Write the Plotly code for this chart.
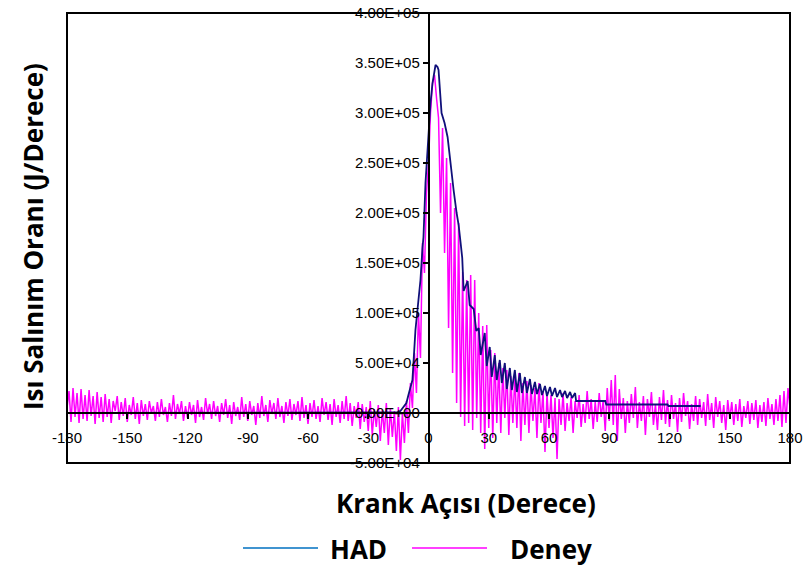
import plotly.graph_objects as go

# Crank angle grid for the measured (Deney) heat release rate, 1 degree steps
crank_deg = list(range(-180, 181))

# Measured heat release rate, in units of 1000 J/deg, from -180 to 180 deg
deney_k = [
    5, 22, -9, 25, -4, 20, -10, 24, -6, 18,
    -8, 23, -3, 17, -11, 21, -5, 16, -9, 19,
    -4, 14, -10, 12, 2, 17, -7, 11, -3, 15,
    -9, 8, -2, 16, -6, 10, -11, 13, -3, 9,
    -7, 12, 0, 7, -8, 11, -4, 14, -2, 6,
    -9, 10, -3, 18, -6, 9, -1, 12, -8, 7,
    -5, 11, -2, 8, -10, 13, -4, 6, -7, 15,
    -1, 9, -6, 12, -3, 7, -9, 10, -2, 14,
    -5, 8, -11, 11, -3, 6, -7, 16, -4, 9,
    -8, 12, -2, 7, -12, 10, -5, 17, -3, 8,
    -9, 13, -1, 10, -6, 15, -4, 7, -10, 11,
    -3, 14, -7, 9, -2, 12, -8, 16, -5, 8,
    -11, 10, -4, 13, -6, 7, -9, 15, -2, 11,
    -7, 9, -12, 14, -4, 8, -10, 12, -6, 17,
    -8, 10, -13, 7, -5, 11, -16, 9, -9, 6,
    -18, 12, -22, 4, -14, 8, -28, 3, -20, 10,
    -32, 5, -24, 2, -38, 6, -47, 0, -30, 12,
    -20, 30, 5, 60, 20, 100, 55, 170, 140, 220,
    250, 300, 330, 338, 315, 295, 200, 285, 160, 255,
    85, 230, 40, 205, 10, 190, -4, 141, -13, 133,
    -10, 138, -17, 133, -5, 100, -20, 87, -36, 88,
    -15, 63, -25, 60, -10, 50, -20, 45, -5, 43,
    -22, 37, -10, 37, -15, 40, -28, 30, -12, 32,
    -20, 28, -8, 25, -25, 30, -10, 22, -39, 20,
    -15, 18, -25, 15, -46, 14, -12, 20, -18, 10,
    -8, 16, -20, 12, -5, 18, -14, 9, -10, 22,
    -6, 14, -16, 11, -9, 20, -4, 13, -18, 25,
    -8, 33, -12, 38, -28, 24, -6, 15, -20, 12,
    -10, 19, -5, 26, -15, 11, -8, 17, -22, 14,
    -4, 21, -12, 9, -17, 16, -7, 23, -11, 13,
    -14, 18, -6, 10, -19, 15, -9, 20, -3, 12,
    -16, 9, -8, 17, -12, 14, -5, 11, -13, 19,
    -7, 10, -15, 16, -4, 12, -10, 8, -17, 13,
    -6, 11, -12, 9, -8, 14, -14, 7, -5, 12,
    -11, 10, -7, 13, -15, 8, -9, 11, -13, 15,
    -6, 9, -12, 14, -8, 18, -14, 22, -10, 25,
    5,
]
deney = [v * 1000 for v in deney_k]

# CFD (HAD) heat release rate: crank angle (deg) and value (1000 J/deg)
had_deg = [
    -180, -16, -14, -12.5, -11, -10, -8, -6.5, -5, -4, -3, -2.5, -1.5, 0, 1, 2,
    3, 3.5, 4.5, 5, 6.5, 8, 9.5, 11, 12.5, 14, 15, 16, 16.8, 17.5, 19.5,
    20.5, 22.5, 23.8, 25, 26, 28, 29, 30.5, 31.5, 33, 34, 35.5, 36.5, 38,
    39, 40.5, 41.5, 43, 44, 45.5, 46.5, 48, 49, 50.5, 51.5, 53, 54, 55.5,
    56.5, 58, 59, 60.5, 61.5, 63, 64, 65.5, 66.5, 68, 69, 70.5, 71.5, 73,
    73.5, 88, 88.5, 119, 119.5, 135.5,
]
had_k = [
    0, 0.5, 2, 6, 10, 18, 33, 83, 110, 133, 165, 176, 230, 286, 310, 330,
    342, 348, 346, 343, 300, 290, 276, 246, 223, 200, 188, 170, 155, 122, 132,
    108, 104, 82, 85, 58, 80, 47, 66, 36, 58, 33, 53, 30, 50,
    24, 45, 23, 43, 21, 40, 20, 36, 20, 34, 19, 31, 19, 29,
    18, 27, 17, 26, 17, 25, 16, 23, 16, 22, 15, 21, 15, 20,
    12, 12, 8.5, 8.5, 7, 7,
]
had = [v * 1000 for v in had_k]

# Axis ticks
x_tick_vals = [-180, -150, -120, -90, -60, -30, 0, 30, 60, 90, 120, 150, 180]
x_tick_text = ["-180", "-150", "-120", "-90", "-60", "-30", "0",
               "30", "60", "90", "120", "150", "180"]
y_tick_vals = [-50000, 0, 50000, 100000, 150000, 200000, 250000, 300000, 350000, 400000]
y_tick_text = ["-5.00E+04", "0.00E+00", "5.00E+04", "1.00E+05", "1.50E+05",
               "2.00E+05", "2.50E+05", "3.00E+05", "3.50E+05", "4.00E+05"]

X_RANGE = [-180, 180]
Y_RANGE = [-50000, 400000]

W, H = 803, 566
M_L, M_R, M_T, M_B = 67, 13, 13, 103
PW, PH = W - M_L - M_R, H - M_T - M_B


def px(x):
    return (x - M_L) / PW


def py(y):
    return (H - M_B - y) / PH


fig = go.Figure()
fig.add_trace(go.Scatter(
    x=crank_deg, y=deney, mode="lines", name="Deney",
    line=dict(color="#FF00FF", width=1.5), showlegend=False,
))
fig.add_trace(go.Scatter(
    x=had_deg, y=had, mode="lines", name="HAD",
    line=dict(color="#10107A", width=1.8), showlegend=False,
))

tick_font = dict(family="Liberation Sans, Arial, sans-serif", size=15, color="black")
title_font = dict(family="Open Sans, sans-serif", size=26, color="black")

fig.update_layout(
    width=W, height=H,
    margin=dict(l=M_L, r=M_R, t=M_T, b=M_B, autoexpand=False),
    paper_bgcolor="white", plot_bgcolor="white",
    showlegend=False,
    xaxis=dict(
        range=X_RANGE, anchor="free", automargin=False,
        position=(0 - Y_RANGE[0]) / (Y_RANGE[1] - Y_RANGE[0]),
        showgrid=False, zeroline=False,
        showline=True, linecolor="black", linewidth=1.5,
        ticks="outside", ticklen=5, tickcolor="black", tickwidth=1.5,
        tickvals=x_tick_vals, ticktext=x_tick_text, tickfont=tick_font,
        ticklabelstandoff=6, layer="above traces",
    ),
    yaxis=dict(
        range=Y_RANGE, anchor="free", automargin=False,
        position=(0 - X_RANGE[0]) / (X_RANGE[1] - X_RANGE[0]),
        showgrid=False, zeroline=False,
        showline=True, linecolor="black", linewidth=1.5,
        ticks="outside", ticklen=5, tickcolor="black", tickwidth=1.5,
        tickvals=y_tick_vals, ticktext=y_tick_text, tickfont=tick_font,
        layer="above traces",
    ),
    shapes=[
        dict(type="rect", xref="paper", yref="paper", x0=0, x1=1, y0=0, y1=1,
             line=dict(color="black", width=2), layer="above"),
        dict(type="line", xref="paper", yref="paper",
             x0=px(243), x1=px(318), y0=py(548), y1=py(548),
             line=dict(color="#0070C0", width=1.5)),
        dict(type="line", xref="paper", yref="paper",
             x0=px(412), x1=px(487), y0=py(548), y1=py(548),
             line=dict(color="#FF00FF", width=1.5)),
    ],
    annotations=[
        dict(text="<b>Krank Açısı (Derece)</b>", xref="paper", yref="paper",
             x=px(466), y=py(503), xanchor="center", yanchor="middle",
             showarrow=False, font=title_font),
        dict(text="<b>Isı Salınım Oranı (J/Derece)</b>", xref="paper", yref="paper",
             x=px(33), y=py(237), xanchor="center", yanchor="middle",
             textangle=-90, showarrow=False, font=title_font),
        dict(text="<b>HAD</b>", xref="paper", yref="paper",
             x=px(358), y=py(549), xanchor="center", yanchor="middle",
             showarrow=False, font=title_font),
        dict(text="<b>Deney</b>", xref="paper", yref="paper",
             x=px(551), y=py(549), xanchor="center", yanchor="middle",
             showarrow=False, font=title_font),
    ],
)

fig.write_html("out.html")
